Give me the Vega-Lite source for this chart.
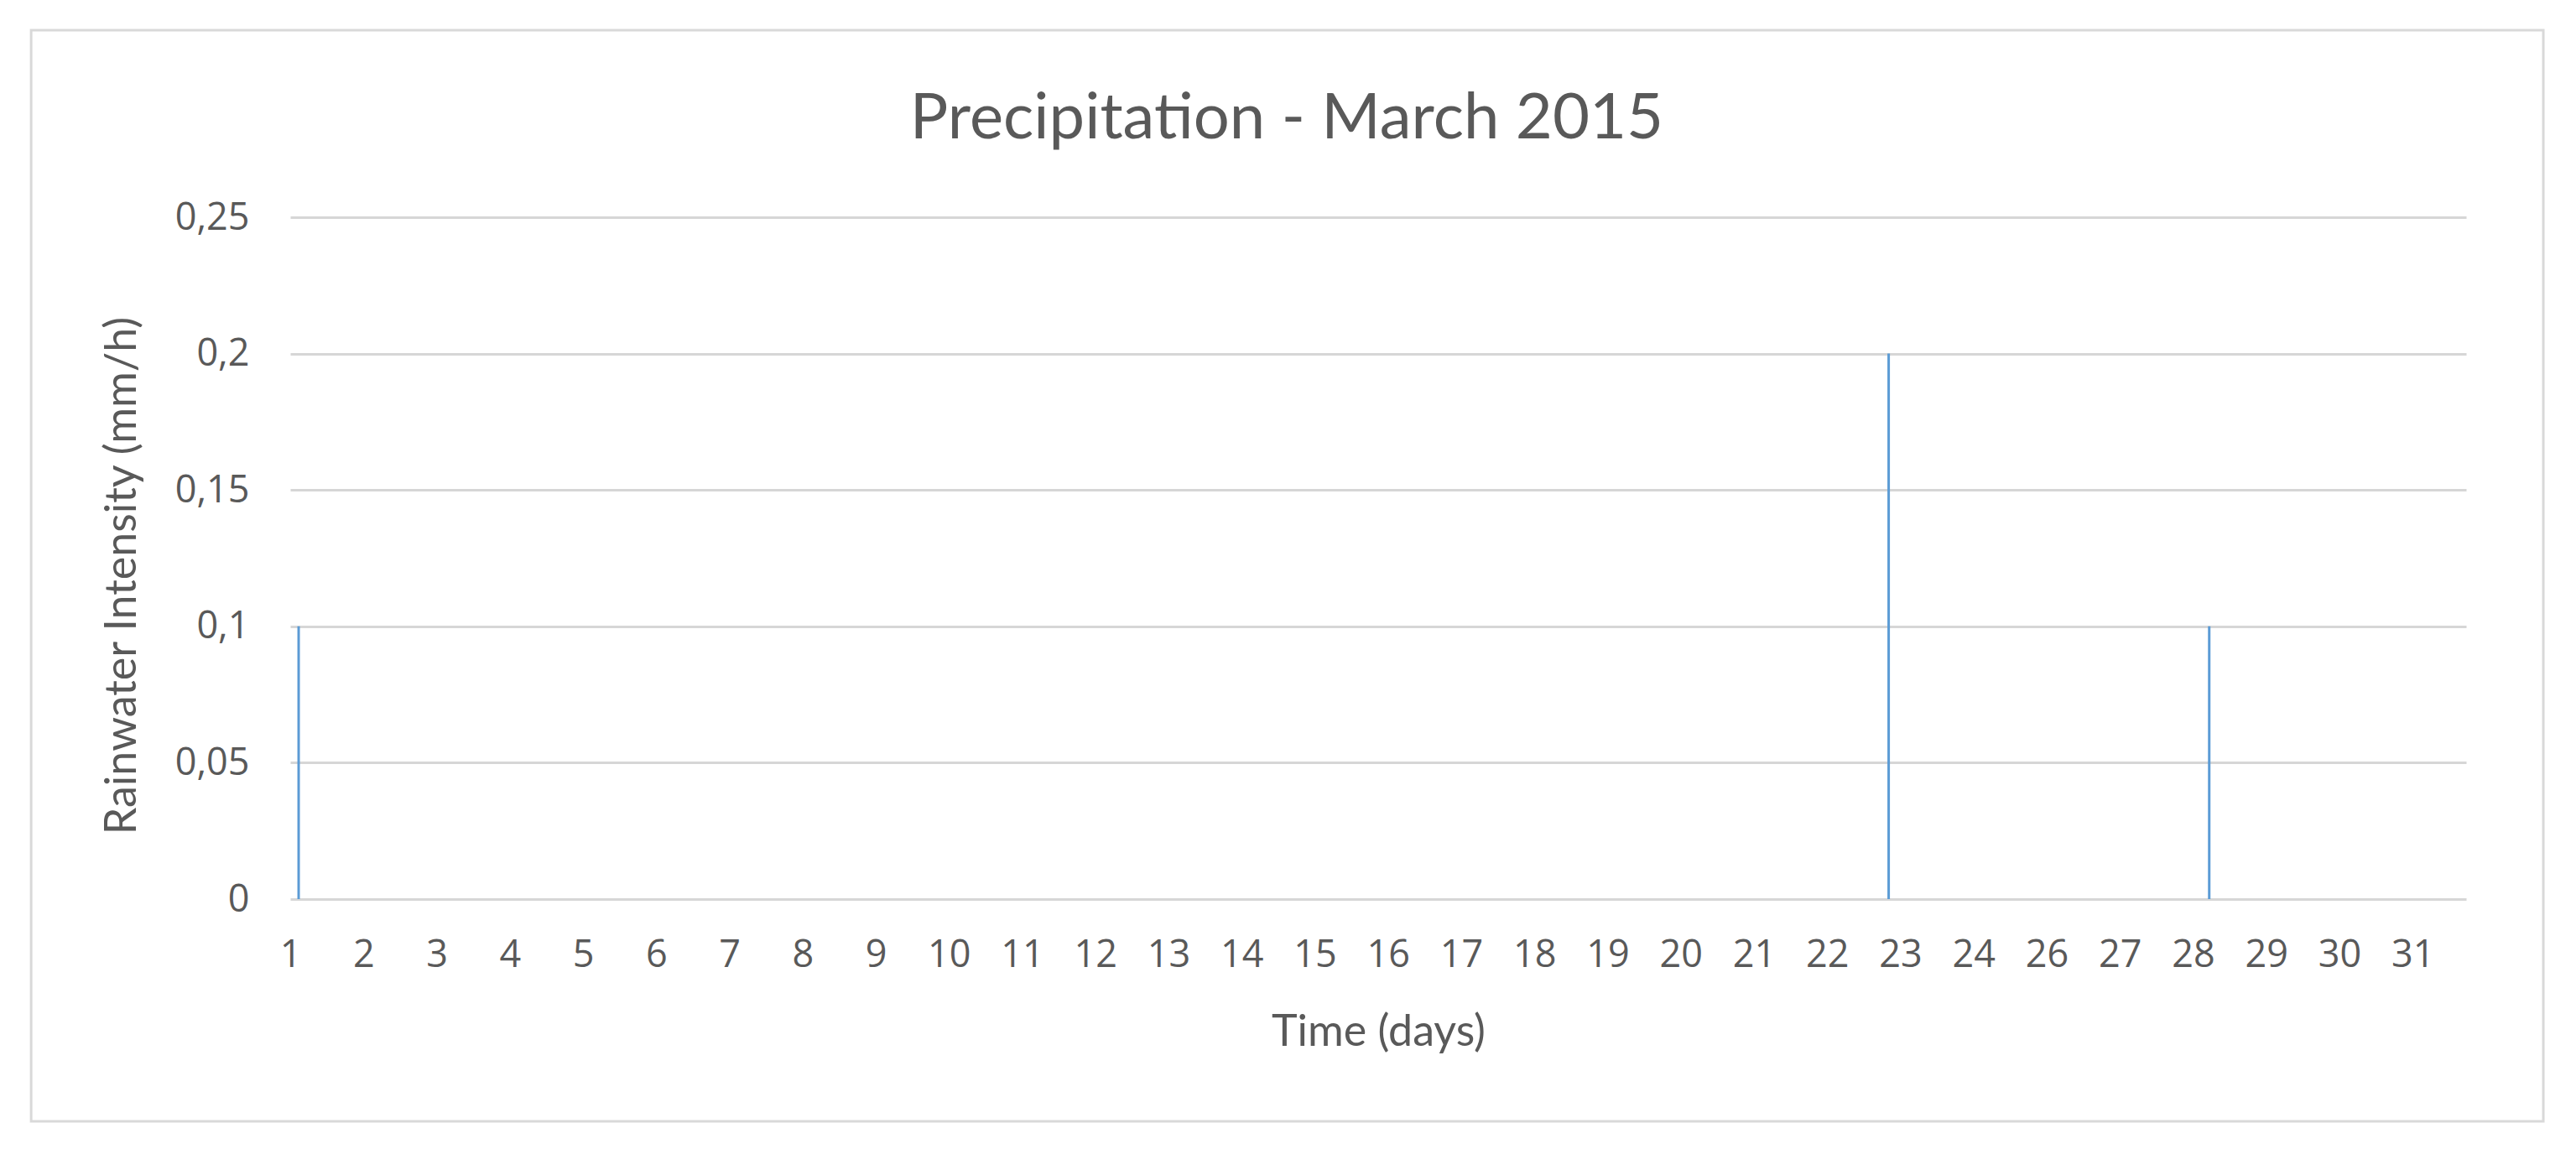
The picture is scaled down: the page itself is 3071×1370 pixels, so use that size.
{
  "$schema": "https://vega.github.io/schema/vega-lite/v6.json",
  "width": 2594,
  "height": 813,
  "autosize": {"type": "none"},
  "padding": {"left": 346, "top": 259, "right": 131, "bottom": 298},
  "background": "white",
  "title": {
    "text": "Precipitation - March 2015",
    "font": "Lato",
    "fontSize": 76,
    "fontWeight": "normal",
    "color": "#595959",
    "anchor": "middle",
    "frame": "group",
    "baseline": "alphabetic",
    "offset": -207,
    "dx": -109
  },
  "config": {
    "view": {"stroke": null},
    "axis": {
      "titleFont": "Lato",
      "titleFontSize": 52,
      "titleFontWeight": "normal",
      "titleColor": "#595959",
      "labelFont": "Open Sans",
      "labelFontSize": 45,
      "labelColor": "#595959",
      "ticks": false,
      "domain": false
    }
  },
  "layer": [
    {
      "data": {"values": [{}]},
      "mark": {"type": "rect", "filled": false, "color": "#D9D9D9", "strokeWidth": 3, "clip": false},
      "encoding": {
        "x": {
          "datum": -3.54,
          "type": "quantitative",
          "scale": {"domain": [0, 29.73], "nice": false, "zero": false},
          "axis": {
            "title": "Time (days)",
            "titlePadding": 44,
            "labelPadding": 44,
            "values": [0,1,2,3,4,5,6,7,8,9,10,11,12,13,14,15,16,17,18,19,20,21,22,23,24,25,26,27,28,29],
            "labelExpr": "datum.value < 24 ? toString(datum.value + 1) : toString(datum.value + 2)",
            "labelOverlap": false,
            "labelFlush": false,
            "grid": false
          }
        },
        "x2": {"datum": 30.785},
        "y": {
          "datum": -0.0815,
          "type": "quantitative",
          "scale": {"domain": [0, 0.25], "nice": false},
          "axis": {
            "title": "Rainwater Intensity (mm/h)",
            "titlePadding": 36,
            "titleY": 427,
            "labelPadding": 49,
            "values": [0, 0.05, 0.1, 0.15, 0.2, 0.25],
            "labelExpr": "replace(format(datum.value, '.2~f'), '.', ',')",
            "grid": true,
            "gridColor": "#D6D6D6",
            "gridWidth": 3
          }
        },
        "y2": {"datum": 0.3186}
      }
    },
    {
      "data": {"values": [
        {"t": 0.115, "rain": 0.1},
        {"t": 21.84, "rain": 0.2},
        {"t": 26.22, "rain": 0.1}
      ]},
      "mark": {"type": "rule", "color": "#5B9BD5", "strokeWidth": 3},
      "encoding": {
        "x": {
          "field": "t",
          "type": "quantitative",
          "scale": {"domain": [0, 29.73], "nice": false, "zero": false},
          "axis": {
            "title": "Time (days)",
            "titlePadding": 44,
            "labelPadding": 44,
            "values": [0,1,2,3,4,5,6,7,8,9,10,11,12,13,14,15,16,17,18,19,20,21,22,23,24,25,26,27,28,29],
            "labelExpr": "datum.value < 24 ? toString(datum.value + 1) : toString(datum.value + 2)",
            "labelOverlap": false,
            "labelFlush": false,
            "grid": false
          }
        },
        "y": {
          "field": "rain",
          "type": "quantitative",
          "scale": {"domain": [0, 0.25], "nice": false},
          "axis": {
            "title": "Rainwater Intensity (mm/h)",
            "titlePadding": 36,
            "titleY": 427,
            "labelPadding": 49,
            "values": [0, 0.05, 0.1, 0.15, 0.2, 0.25],
            "labelExpr": "replace(format(datum.value, '.2~f'), '.', ',')",
            "grid": true,
            "gridColor": "#D6D6D6",
            "gridWidth": 3
          }
        },
        "y2": {"datum": 0}
      }
    }
  ]
}
